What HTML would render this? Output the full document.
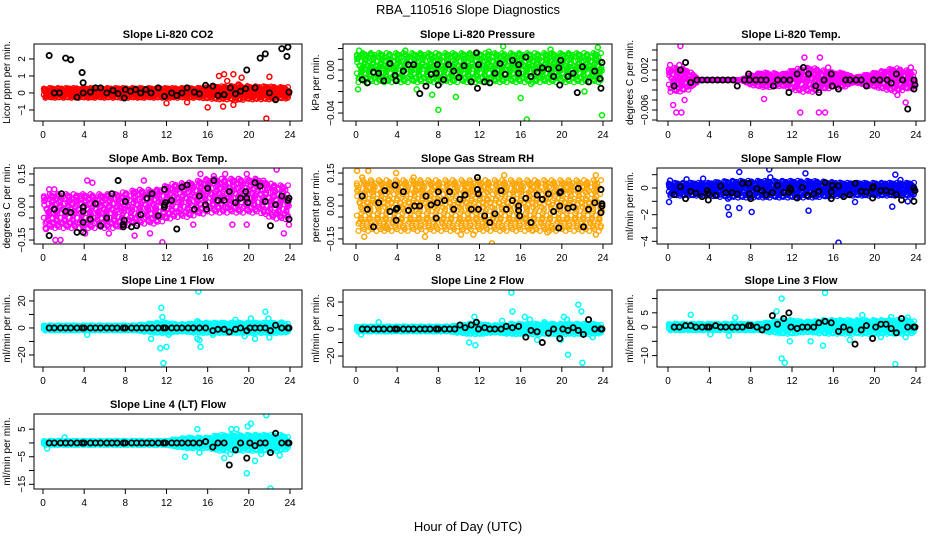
<!DOCTYPE html>
<html><head><meta charset="utf-8"><style>
html,body{margin:0;padding:0;background:#fff;}
svg{display:block;font-family:"Liberation Sans",Arial,sans-serif;}
</style></head><body>
<svg id="chart" width="936" height="540" viewBox="0 0 936 540">
<text x="468" y="14" text-anchor="middle" font-size="13">RBA_110516  Slope Diagnostics</text>
<text x="468" y="531" text-anchor="middle" font-size="13">Hour of Day (UTC)</text>
</svg>
<script>
// ---- shared data ----
const xTicks = [0,4,8,12,16,20,24];
const hrs = [0.6,1.1,1.7,2.2,2.7,3.3,3.8,4.0,4.6,5.1,5.6,6.2,6.7,7.2,7.8,8.0,8.6,9.1,9.6,10.1,10.6,11.2,11.7,11.9,12.5,13.0,13.5,14.1,14.6,15.2,15.8,16.5,17.0,17.6,18.1,18.7,19.2,19.8,20.1,20.6,21.1,21.6,22.1,22.6,23.2,23.8,23.9];

// ---- panel 1: CO2 ----
const co2Spread = [0.3,0.3,0.3,0.3,0.3,0.3,0.3,0.3,0.3,0.3,0.3,0.3,0.3,0.3,0.3,0.3,0.35,0.4,0.4,0.45,0.4,0.4,0.4,0.35,0.35];
const co2Center = [0,0,0,0,0,0,0,0,0,0,0,0,0,0,0,0,0,0,0,0,0,0,0,0,0];
const co2OutX = [17.1,17.6,18.5,19.3,22,21.7,16,17.5,18.5,12,14,19,17.9];
const co2OutY = [1.0,1.1,1.1,0.9,0.95,-1.5,-0.85,-0.8,-0.7,-0.6,-0.55,0.5,0.7];
const co2BlkX = [0.6,2.2,2.7,3.8,3.9,1.1,1.6,3.3,3.9,4.6,5.1,5.6,6.2,6.8,7.3,7.9,8,8.5,9,9.5,10,10.5,11.2,11.8,12.5,13,13.5,14,14.7,15.2,15.8,16.5,17,17.6,18.2,18.7,19.2,19.7,19.8,20.6,21.1,21.6,22,22.6,23.2,23.8,23.7,23.9];
const co2BlkY = [2.2,2.05,1.95,1.2,0.6,0,0,-0.25,0,0.05,0.3,0.3,0,0.15,-0.05,-0.3,0.2,0.1,0.2,0,0.2,0,0.3,-0.2,0,-0.15,0,0.3,0.05,-0.05,0.45,0.4,-0.15,-0.1,0.3,-0.05,0.1,0.25,1.35,0.3,2.05,2.3,0,-0.4,2.6,2.7,2.15,0.05];

// ---- panel 2: pressure ----
const prsSpread = [0.014,0.014,0.014,0.014,0.014,0.014,0.014,0.014,0.014,0.014,0.014,0.014,0.014,0.014,0.014,0.014,0.014,0.014,0.014,0.014,0.014,0.014,0.014,0.014,0.014];
const prsCenter = [0.002,0.002,0.002,0.002,0.002,0.002,0.002,0.002,0.002,0.002,0.002,0.002,0.002,0.002,0.002,0.002,0.002,0.002,0.002,0.002,0.002,0.002,0.002,0.002,0.002];
const prsOutX = [0.3,4.8,8,16,16.6,23.9,7.4,9.7,14.3,23.5,18.9,0.2,22.2,5.9,17,12.9];
const prsOutY = [0.018,0.018,-0.037,-0.026,-0.046,-0.042,-0.023,-0.025,0.022,0.021,0.019,-0.018,-0.02,-0.018,-0.013,0.017];
const prsBlkX = [0.6,1.1,1.7,2.2,2.7,3.3,3.8,3.9,4.6,5.1,5.6,6.2,6.8,7.3,7.8,7.9,8,8.5,9,9.5,10,10.5,11.2,11.7,11.8,11.9,12.5,13,13.5,14,14.5,15.2,15.8,15.8,16.5,17,17.6,18.1,18.7,19.2,19.7,19.8,19.9,20.6,21.1,21.5,22,22.6,23.2,23.7,23.8,23.9];
const prsBlkY = [-0.009,-0.012,-0.002,-0.003,-0.01,0.006,-0.005,-0.01,-0.001,0.005,0.005,-0.022,-0.015,-0.004,-0.003,0.005,-0.014,-0.009,0.005,-0.001,-0.007,0.004,-0.011,0.016,-0.017,0.005,-0.011,-0.012,-0.003,0.006,-0.004,0.009,0.005,-0.003,0.012,-0.006,-0.002,0.002,0.001,-0.006,0.002,-0.014,0.009,-0.006,-0.003,-0.021,0.003,-0.011,-0.001,-0.008,-0.017,0.007];

// ---- panel 3: Li-820 temp ----
const tmpSpread = [0.0025,0.0025,0.002,0,0,0,0,0,0.001,0.0015,0.0015,0.0012,0.002,0.0025,0.0025,0.002,0.0015,0.0015,0.0005,0.001,0.0015,0.002,0.0025,0.002,0.0015];
const tmpCenter = [0,0,0,0,0,0,0,0,0,0,0,0,0,0,0,0,0,0,0,0,0,0,0,0,0];
const tmpOutX = [1.2,0.2,1.1,0.5,0.8,1.3,1.6,13.2,14.7,15.5,14.6,15.2,12.8,9.3,23.0,23.5,22.2];
const tmpOutY = [0.0068,0.003,0.003,-0.005,-0.0065,-0.0065,-0.004,0.0045,0.0045,0.0025,-0.0065,-0.0065,-0.0065,-0.0038,-0.0045,0.0025,-0.003];
const tmpBlkX = [0.6,1.2,1.7,2.2,2.8,3.3,3.8,4.3,4.8,5.3,5.8,6.3,6.7,7.4,7.8,7.9,8.5,9,9.5,10.2,10.6,11.2,11.7,11.8,12.5,13.1,13.6,14.3,14.6,15.1,15.8,15.9,16.5,17.2,17.6,18.2,18.7,19.2,19.9,20.5,21.2,21.6,22.1,22.7,23.2,23.8,23.8,23.9];
const tmpBlkY = [-0.0012,0.002,0.0035,-0.0005,0,0,0,0,0,0,0,0,-0.0012,0,0.0012,0,0,0,0,-0.0012,0,0,-0.0025,0,0.0012,0.0025,0.0012,-0.0012,-0.0025,0,0.0012,-0.0012,-0.0018,0,0,0,0,-0.0012,0,0,0,-0.0006,0.0012,0,-0.0058,0,-0.0018,-0.001];

// ---- panel 4: ambient box temp ----
const ambSpread = [0.08,0.08,0.08,0.08,0.08,0.08,0.08,0.08,0.08,0.08,0.08,0.08,0.08,0.08,0.08,0.08,0.08,0.08,0.08,0.08,0.08,0.08,0.08,0.08,0.08];
const ambCenter = [-0.02,-0.02,-0.02,-0.02,-0.02,-0.02,-0.02,-0.02,-0.01,0,0,0,0.02,0.03,0.03,0.04,0.05,0.05,0.05,0.05,0.05,0.05,0.03,0.02,0.02];
const ambOutX = [1.7,1.2,4.3,4.8,9.8,11.6,15.3,16.6,17.7,19.8,22.7,23.4,0.6,1.1,0.3,4.1,6.4,10.4,8.9,18.4,19.8,23.9,14.6,21.2,3.6];
const ambOutY = [-0.15,-0.15,0.12,0.11,0.12,-0.16,0.15,0.14,0.15,0.15,0.17,-0.12,0.08,0.08,-0.1,-0.12,-0.12,-0.12,-0.13,-0.08,-0.08,-0.08,-0.08,0.11,0.05];
const ambBlkX = [0.6,1.1,1.8,2.2,2.7,3.3,3.9,3.9,3.9,3.9,4.6,5.1,5.6,6.2,6.7,7.3,7.8,7.8,7.9,8,8.6,9.1,9.5,10.1,10.6,11.2,11.8,11.8,11.8,11.9,12.5,13,13.5,14,14.7,15.2,15.8,15.9,16,16.6,17,17.6,18.1,18.7,19.2,19.7,19.8,19.9,20.6,21.1,21.6,22.1,22.6,23.2,23.8,23.9,23.9];
const ambBlkY = [-0.13,-0.01,0.06,-0.02,-0.025,-0.115,0,-0.02,-0.07,-0.115,-0.055,0.015,-0.085,-0.05,0.06,0.12,-0.08,-0.09,-0.06,0.025,-0.09,-0.085,-0.035,0.04,0.06,-0.04,0.01,0,0.08,0.02,0.03,-0.1,0.09,0.1,-0.01,0.05,0.01,-0.01,0.085,0.12,0.03,0.03,0.07,0.02,0.04,0.07,0.04,0.02,0.11,0.095,0.025,-0.085,0.01,0.05,0.03,-0.055,0.04];

// ---- panel 5: gas stream RH ----
const rhSpread = [0.12,0.12,0.12,0.12,0.12,0.12,0.12,0.12,0.12,0.12,0.12,0.12,0.12,0.12,0.12,0.12,0.12,0.12,0.12,0.12,0.12,0.12,0.12,0.12,0.12];
const rhCenter = [0,0,0,0,0,0,0,0,0,0,0,0,0,0,0,0,0,0,0,0,0,0,0,0,0];
const rhOutX = [0.1,1.2,0.8,2.9,6.7,13.2,14.4,10.2,23.3,23.3,18.6,17.1,11.4,5.6,0.6,3.9];
const rhOutY = [0.16,0.16,-0.14,-0.1,-0.14,-0.17,0.14,-0.13,0.14,-0.13,-0.12,-0.11,-0.13,0.13,0.13,0.15];
const rhBlkX = [0.6,1.1,1.7,2.2,2.8,3.3,3.8,3.9,3.9,4.0,4.6,5.1,5.7,6.2,6.8,7.3,7.8,7.9,8,8.6,9.1,9.5,10.1,10.6,11.2,11.8,11.8,11.9,11.9,12.5,13,13.5,14.1,14.6,15.2,15.8,15.8,15.9,16.5,17.0,17.6,18.1,18.7,19.2,19.7,19.8,19.8,19.9,20.6,21.1,21.6,22.1,22.6,23.2,23.8,23.8,23.9,23.9];
const rhBlkY = [0.045,-0.015,-0.095,0.015,0.07,-0.025,0.095,-0.015,-0.065,-0.01,0.065,-0.02,0,0,0.045,0.005,-0.055,0.015,0.065,0.025,0.065,-0.015,0.03,0.05,-0.015,0.13,0.075,0.055,-0.015,-0.045,-0.075,-0.035,0.07,-0.015,0.025,0,-0.02,-0.045,0.035,-0.075,0.05,0.03,0.055,-0.025,-0.1,0,0.06,0.065,-0.01,-0.005,0.08,-0.095,-0.015,0.015,0.075,-0.03,0,0.01];

// ---- panel 6: sample flow ----
const sfSpread = [0.5,0.5,0.5,0.5,0.5,0.6,0.65,0.65,0.65,0.65,0.65,0.65,0.65,0.65,0.65,0.6,0.55,0.5,0.5,0.5,0.5,0.5,0.5,0.5,0.5];
const sfCenter = [-0.1,-0.1,-0.1,-0.1,-0.1,-0.1,-0.1,-0.1,-0.1,-0.1,-0.1,-0.1,-0.1,-0.1,-0.1,-0.1,-0.1,-0.1,-0.1,-0.1,-0.1,-0.1,-0.1,-0.1,-0.1];
const sfOutX = [0.1,5.8,5.9,6.9,8.1,13.6,16.5,6.9,9.8,13.3,9.9,21.7,22,18.1,22.5,23.2,3.4,1.8,0.2,5.8];
const sfOutY = [-1.05,-1.45,-2,-1.5,-1.8,-1.7,-4.1,1.2,1.4,1.1,0.8,-1.4,1.0,-1.05,0.6,-1,0.7,0.65,0.55,-0.8];
const sfBlkX = [0.6,1.2,1.7,2.2,2.7,3.3,3.8,3.9,3.9,4.6,5.1,5.6,6.2,6.7,7.2,7.8,7.9,8.0,8.6,9.1,9.5,10.1,10.6,11.2,11.7,11.8,11.9,12.5,13,13.5,14.1,14.6,15.2,15.8,15.8,15.9,16.5,17.0,17.6,18.1,18.7,19.2,19.8,19.8,19.9,20.6,21.1,21.6,22.1,22.6,23.8,23.8,23.9];
const sfBlkY = [-0.5,0.1,-0.8,-0.25,-0.4,-0.65,-0.2,-0.9,-0.4,-0.55,0.15,-0.35,-0.35,-0.45,0.35,0.35,-0.45,-0.8,-0.05,-0.2,-0.5,-0.35,0.2,-0.35,-0.3,0,-0.15,-0.75,0.05,-0.55,-0.45,-0.25,0.4,-0.8,-0.3,0.2,0.15,-0.65,-0.5,0.35,-0.25,-0.3,-0.75,0,0.1,-0.2,-0.2,-0.3,-0.5,-0.9,0,-1,-0.2];

// ---- panel 7: line 1 ----
const l1Spread = [2,2,2,2,2,2,2,2,2,2,3,4,4,3,3,4,4,4,4,4,4,4,4,4,3];
const l1Center = [0,0,0,0,0,0,0,0,0,0,0,0,0,0,0,0,0,0,0,0,0,0,0,0,0];
const l1OutX = [11.5,11.4,11.7,12,15.1,15,15,15.2,15.3,21.6,21.9,22,20.2,20.6,11.6,10.5,12.2,16.5,4.3,18.7,23.2,19.6];
const l1OutY = [15,-15,-26,-14,27,5,-8,-9,-14,12,7,-7,7,-8,8,-8,-5,-5,-5,6,4,-6];
const l1BlkY = [0,0,0,0,0,0,0,0,0,0,0,0,0,0,0,0,0,0,0,0,0,0,0,0,0,0,0,0,0,0,0,-2,-1,-1,-3,-1,0,-2,0,0,0,0,-2,2,0,0,0];

// ---- panel 8: line 2 ----
const l2Spread = [2,2,2,2,2,2,2,2,2,2,3,4,4,3,3,4,4,4,4,4,4,4,4,4,3];
const l2Center = [0,0,0,0,0,0,0,0,0,0,0,0,0,0,0,0,0,0,0,0,0,0,0,0,0];
const l2OutX = [15.1,15.2,11.5,11,11.6,16.4,16.9,17.6,20.2,20.5,20.6,21.6,21.9,22,23,2.2,0.5,19.9,14.2,18.3];
const l2OutY = [27,13,9,-10,-12,9,7,-8,9,7,-19,18,13,-25,-6,5,-4,-8,6,5];
const l2BlkY = [0,0,0,0,0,0,0,0,0,0,0,0,0,0,0,0,0,0,0,3,1,3,5,0,1,0,0,0,2,1,2,-6,-1,-2,-10,-3,0,-7,0,-1,1,-1,-4,7,0,0,0];

// ---- panel 9: line 3 ----
const l3Spread = [1.2,1.2,1.2,1.2,1.2,1.2,1.2,1.2,1.2,1.2,2,2.5,2.5,2,2,2.5,2.5,2.5,2.5,2.5,2.5,2.5,2.5,2.5,2];
const l3Center = [0,0,0,0,0,0,0,0,0,0,0,0,0,0,0,0,0,0,0,0,0,0,0,0,0];
const l3OutX = [15.2,11,11,11.3,22,10.5,15,13.8,2.2,6.5,5.9,4.1,17.6,18.8,20.6,21.6,23.2,23,11.8];
const l3OutY = [12,10,-11,-12.5,-13,5.5,-6.5,-5,4.3,3.3,-3,-2.5,-4.5,4.2,-3.5,3.5,3.3,-3.5,-5];
const l3BlkY = [0,0,0.5,0.5,0,0,0,0,0.5,0,0,0,0,0,0.5,0.5,0,-1,0,4,1,3,5,0,-0.5,0,0,0,1.5,2,1.5,-1.5,0,-1,-6,-1,0.5,-4,0,1,1,-0.5,-2,3,0,0,0];

// ---- panel 10: line 4 ----
const l4Spread = [0.8,0.8,0.8,0.8,0.8,0.8,0.8,0.8,0.8,0.8,0.8,0.8,0.8,1.5,2,2,2,3,3,3,3,3,3,3,2];
const l4Center = [0,0,0,0,0,0,0,0,0,0,0,0,0,0,0,0,0,0,0,0,0,0,0,0,0];
const l4OutX = [21.7,20.2,19.9,15,18.3,18.8,13.8,15.2,17.6,19.8,20.6,22.1,23,2.1,0.4,18.2,21.2];
const l4OutY = [10,7,6,5,5,5,-5,-3.5,-5.5,-11,-6.5,-16.5,-4.5,2,-2,-4,-4];
const l4BlkY = [0,0,0,0,0,0,0,0,0,0,0,0,0,0,0,0,0,0,0,0,0,0,0,0,0,0,0,0,0,0,0.5,-1.5,0,0,-8,-2.5,0,-5.5,0,-1,0,0,-3.5,3.5,0,0,0];

// ---- layout / styling (not data) ----
const NS='http://www.w3.org/2000/svg';
const svg=document.getElementById('chart');
const texture=[0.37,-0.82,0.15,0.91,-0.44,0.63,-0.11,-0.95,0.52,-0.28,0.78,0.04,-0.67,0.29,-0.53,0.86,-0.19,0.71,-0.88,0.45,-0.36,0.98,-0.6,0.22,-0.05,0.58,-0.75,0.1,0.83,-0.49];
const cols=[{l:34,r:302,x0:43,x24:290},{l:343,r:612,x0:356,x24:603},{l:657,r:925,x0:668,x24:916}];
const rows=[{t:44,b:121},{t:168,b:244},{t:290,b:367},{t:414,b:489}];
const panels=[
 {name:'co2',title:'Slope Li-820 CO2',ylab:'Licor ppm per min.',c:0,r:0,dom:[-1.65,2.88],ticks:[-1,0,1,2],labs:[-1,0,1,2],fmt:0,col:'#ff0000',sp:co2Spread,ce:co2Center,ox:co2OutX,oy:co2OutY,bx:co2BlkX,by:co2BlkY},
 {name:'pressure',title:'Slope Li-820 Pressure',ylab:'kPa per min.',c:1,r:0,dom:[-0.0474,0.0242],ticks:[-0.04,-0.03,-0.02,-0.01,0,0.01,0.02],labs:[-0.04,0],fmt:2,col:'#00ee00',sp:prsSpread,ce:prsCenter,ox:prsOutX,oy:prsOutY,bx:prsBlkX,by:prsBlkY},
 {name:'temp',title:'Slope Li-820 Temp.',ylab:'degrees C per min.',c:2,r:0,dom:[-0.0082,0.0072],ticks:[-0.008,-0.006,-0.004,-0.002,0,0.002,0.004,0.006],labs:[-0.006,0.002],fmt:3,col:'#ff00ff',sp:tmpSpread,ce:tmpCenter,ox:tmpOutX,oy:tmpOutY,bx:tmpBlkX,by:tmpBlkY},
 {name:'amb-temp',title:'Slope Amb. Box Temp.',ylab:'degrees C per min.',c:0,r:1,dom:[-0.168,0.177],ticks:[-0.15,-0.1,-0.05,0,0.05,0.1,0.15],labs:[-0.15,0,0.15],fmt:2,col:'#ff00ff',sp:ambSpread,ce:ambCenter,ox:ambOutX,oy:ambOutY,bx:ambBlkX,by:ambBlkY},
 {name:'rh',title:'Slope Gas Stream RH',ylab:'percent per min.',c:1,r:1,dom:[-0.173,0.173],ticks:[-0.15,-0.1,-0.05,0,0.05,0.1,0.15],labs:[-0.15,0,0.15],fmt:2,col:'#ffa500',sp:rhSpread,ce:rhCenter,ox:rhOutX,oy:rhOutY,bx:rhBlkX,by:rhBlkY},
 {name:'sample-flow',title:'Slope Sample Flow',ylab:'ml/min per min.',c:2,r:1,dom:[-4.2,1.5],ticks:[-4,-3,-2,-1,0,1],labs:[-4,-2,0],fmt:0,col:'#0000ff',sp:sfSpread,ce:sfCenter,ox:sfOutX,oy:sfOutY,bx:sfBlkX,by:sfBlkY},
 {name:'line1',title:'Slope Line 1 Flow',ylab:'ml/min per min.',c:0,r:2,dom:[-28.9,28.1],ticks:[-20,-10,0,10,20],labs:[-20,0,20],fmt:0,col:'#00ffff',sp:l1Spread,ce:l1Center,ox:l1OutX,oy:l1OutY,bx:hrs,by:l1BlkY},
 {name:'line2',title:'Slope Line 2 Flow',ylab:'ml/min per min.',c:1,r:2,dom:[-28.1,28.9],ticks:[-20,-10,0,10,20],labs:[-20,0,20],fmt:0,col:'#00ffff',sp:l2Spread,ce:l2Center,ox:l2OutX,oy:l2OutY,bx:hrs,by:l2BlkY},
 {name:'line3',title:'Slope Line 3 Flow',ylab:'ml/min per min.',c:2,r:2,dom:[-14.0,13.0],ticks:[-10,-5,0,5,10],labs:[-10,0,5],fmt:0,col:'#00ffff',sp:l3Spread,ce:l3Center,ox:l3OutX,oy:l3OutY,bx:hrs,by:l3BlkY},
 {name:'line4',title:'Slope Line 4 (LT) Flow',ylab:'ml/min per min.',c:0,r:3,dom:[-16.7,10.5],ticks:[-15,-10,-5,0,5],labs:[-15,-5,5],fmt:0,col:'#00ffff',sp:l4Spread,ce:l4Center,ox:l4OutX,oy:l4OutY,bx:hrs,by:l4BlkY}
];
function mk(tag,attrs,parent){const e=document.createElementNS(NS,tag);for(const k in attrs)e.setAttribute(k,attrs[k]);(parent||svg).appendChild(e);return e;}
function fmtNum(v,d){let s=v.toFixed(d);if(parseFloat(s)===0)return (0).toFixed(d);if(s.startsWith('-'))s='\u2212'+s.slice(1);return s;}
function interp(arr,h){const i=Math.min(23,Math.floor(h));const f=h-i;return arr[i]*(1-f)+arr[i+1]*f;}

panels.forEach(p=>{
 const C=cols[p.c],R=rows[p.r];
 const xs=v=>C.x0+(C.x24-C.x0)*v/24;
 const ys=v=>R.b-(v-p.dom[0])/(p.dom[1]-p.dom[0])*(R.b-R.t);
 const g=mk('g',{});
 
 
 const cx=(C.l+C.r)/2;
 const tt=mk('text',{x:cx,y:R.t-6,'text-anchor':'middle','font-size':'11','font-weight':'bold'},g);
 tt.textContent=p.title;
 
 
 const cid='clip-'+p.name;
 const cp=mk('clipPath',{id:cid},g);mk('rect',{x:C.l,y:R.t,width:C.r-C.l,height:R.b-R.t},cp);
 const pts=mk('g',{'clip-path':'url(#'+cid+')'},g);
 
 
 // textured cloud from spread/center arrays
 let k=0;
 for(let h=0.15;h<=23.95;h+=0.16){
  const sp=interp(p.sp,h),ce=interp(p.ce,h);
  for(let j=0;j<6;j++){
   const v=ce+sp*texture[(k*7+j*5)%30];
   const hx=h+0.08*texture[(k*3+j*11+4)%30];
   const c=mk('circle',{cx:xs(hx).toFixed(1),cy:ys(v).toFixed(1),r:2.4,fill:'none',stroke:p.col,'stroke-width':1.3},pts);
   
   
  }
  k++;
 }
 p.ox.forEach((x,i)=>{
  const c=mk('circle',{cx:xs(x),cy:ys(p.oy[i]),r:2.5,fill:'none',stroke:p.col,'stroke-width':1.5},pts);
  
  
 });
 p.bx.forEach((x,i)=>{
  const c=mk('circle',{cx:xs(x),cy:ys(p.by[i]),r:2.6,fill:'none',stroke:'#000','stroke-width':1.8},pts);
  
  
 });
 const bx=mk('rect',{x:C.l,y:R.t,width:C.r-C.l,height:R.b-R.t,fill:'none',stroke:'#000','stroke-width':1},g);
 
 
 xTicks.forEach(t=>{
  mk('line',{x1:xs(t),x2:xs(t),y1:R.b,y2:R.b+5,stroke:'#000'},g);
  const l=mk('text',{x:xs(t),y:R.b+17,'text-anchor':'middle','font-size':'10'},g);
  l.textContent=t;
  
  
 });
 p.ticks.forEach(t=>{mk('line',{x1:C.l-5,x2:C.l,y1:ys(t),y2:ys(t),stroke:'#000'},g);});
 p.labs.forEach(t=>{
  const y=ys(t),x=C.l-9;
  const l=mk('text',{x:x,y:y,'text-anchor':'middle','font-size':'10',transform:'rotate(-90 '+x+' '+y+')'},g);
  l.textContent=fmtNum(t,p.fmt);
  
  
 });
 const yy=(R.t+R.b)/2,xx=C.l-24;
 const yl=mk('text',{x:xx,y:yy,'text-anchor':'middle','font-size':'10',transform:'rotate(-90 '+xx+' '+yy+')'},g);
 yl.textContent=p.ylab;
 
 
});
</script>
</body></html>
